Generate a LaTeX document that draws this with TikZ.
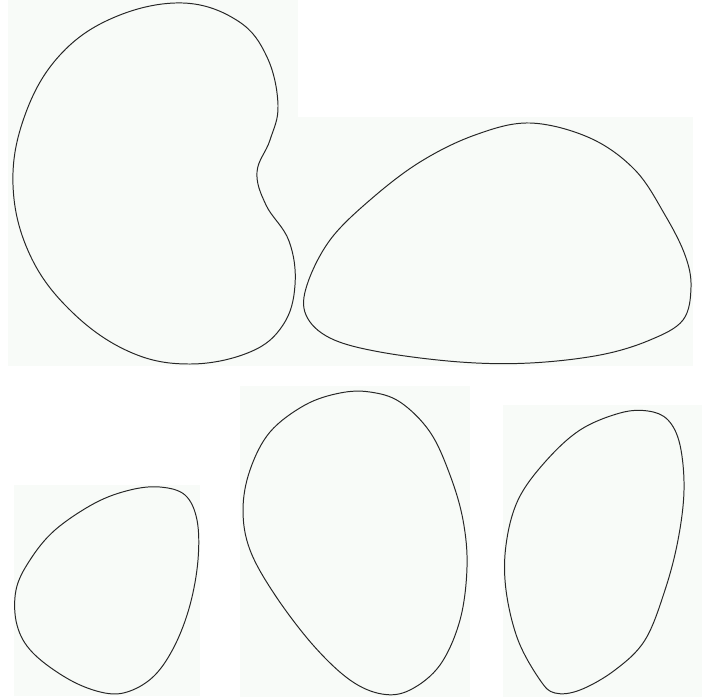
\documentclass[tikz,border=0pt]{standalone}
\usetikzlibrary{positioning}
\definecolor{paper}{RGB}{248,251,248}
\begin{document}
\begin{tikzpicture}[
      x=0.025cm, y=-0.025cm,
      panel/.style={fill=paper, draw=none},
      blob/.style={draw=black!85, line width=0.7pt}
  ]
      \useasboundingbox (0,0) rectangle (708,699);

      % Faint panels behind each outline
      \path [panel] (8,0) rectangle (298,366);
      \path [panel] (298,117) rectangle (693,366);
      \path [panel] (14,485) rectangle (200,696);
      \path [panel] (240,386) rectangle (470,697);
      \path [panel] (503,405) rectangle (702,697);

      % Top left: kidney
      \draw [blob] plot [smooth cycle, tension=0.65] coordinates {
        (183,3) (238,21) (267,57) (278,105) (270,140) (257,172)
        (266,205) (289,241) (295,285) (283,325) (250,352) (190,364)
        (130,352) (72,312) (30,255) (13,185) (25,115) (60,55) (115,17)};

      % Top right: wide blob
      \draw [blob] plot [smooth cycle, tension=0.6] coordinates {
        (530,123) (590,138) (635,170) (665,215) (685,255) (691,287)
        (683,320) (650,340) (600,355) (530,363) (460,362) (380,352)
        (330,338) (306,315) (307,285) (330,240) (370,200) (420,162)
        (475,135)};

      % Bottom left
      \draw [blob] plot [smooth cycle, tension=0.6] coordinates {
        (160,487) (185,495) (197,520) (198,560) (190,605) (175,645)
        (155,675) (130,691) (105,693) (70,680) (33,653) (17,625)
        (16,590) (30,560) (55,530) (95,503) (130,490)};

      % Bottom middle
      \draw [blob] plot [smooth cycle, tension=0.6] coordinates {
        (370,392) (400,402) (430,432) (450,475) (463,520) (467,567)
        (460,620) (440,665) (410,690) (382,694) (350,680) (313,645)
        (275,595) (250,550) (243,510) (250,470) (270,432) (305,405)
        (340,393)};

      % Bottom right
      \draw [blob] plot [smooth cycle, tension=0.6] coordinates {
        (648,411) (668,420) (680,445) (684,490) (678,540) (665,590)
        (645,640) (615,670) (580,690) (555,693) (540,680) (518,640)
        (506,590) (506,545) (518,500) (545,462) (580,430) (620,413)};
  \end{tikzpicture}
\end{document}
